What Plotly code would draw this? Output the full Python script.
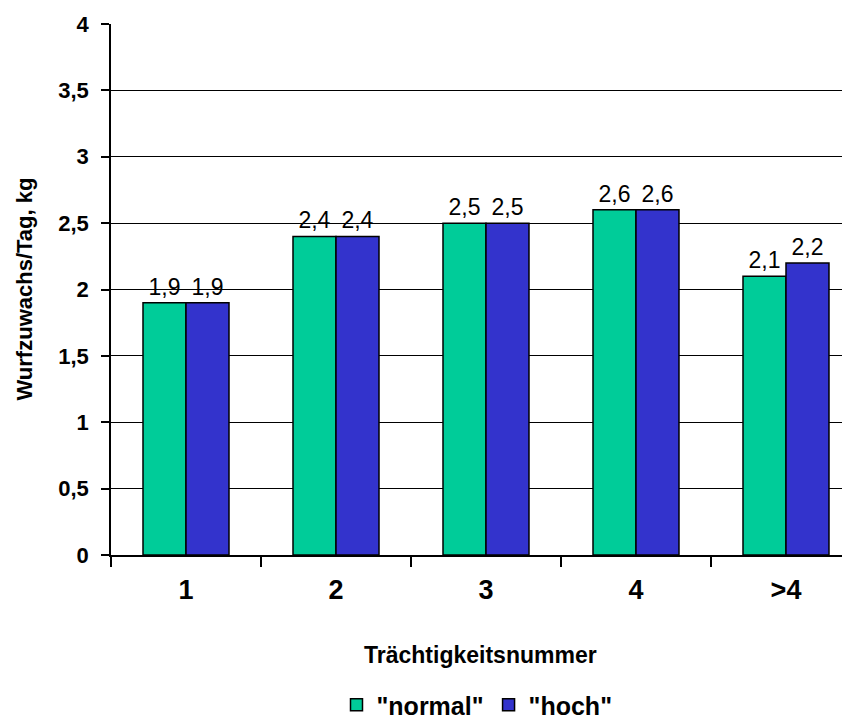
import plotly.graph_objects as go

categories = ["1", "2", "3", "4", ">4"]
normal_values = [1.9, 2.4, 2.5, 2.6, 2.1]
hoch_values = [1.9, 2.4, 2.5, 2.6, 2.2]
y_ticks = [0, 0.5, 1, 1.5, 2, 2.5, 3, 3.5, 4]

font_family = "Liberation Sans, Arial, sans-serif"

# page body has an 8px margin; figure is sized so it ends at the window edge
FIG_W, FIG_H = 842, 716
L, T, R, B = 103, 16, 0, 169
PW, PH = FIG_W - L - R, FIG_H - T - B

fig = go.Figure()
for name, vals, col in [('"normal"', normal_values, "#00CC99"), ('"hoch"', hoch_values, "#3333CC")]:
    fig.add_trace(go.Bar(
        x=categories, y=vals, name=name,
        marker=dict(color=col, line=dict(color="#000000", width=1.5)),
        texttemplate="%{y:.1f}", textposition="outside", constraintext="none",
        textfont=dict(size=23, color="#000000", family=font_family),
        cliponaxis=False,
    ))

fig.update_layout(
    width=FIG_W, height=FIG_H,
    margin=dict(l=L, r=R, t=T, b=B, autoexpand=False),
    paper_bgcolor="white", plot_bgcolor="white",
    separators=",.",
    barmode="group", bargap=0.4267, bargroupgap=0,
    font=dict(family=font_family, color="#000000"),
    showlegend=True,
    legend=dict(
        orientation="h", xref="container", yref="container",
        x=469 / FIG_W, y=1 - 697 / FIG_H, xanchor="center", yanchor="middle",
        font=dict(size=25, family=font_family, color="#000000", weight="bold"),
        traceorder="normal",
    ),
    xaxis=dict(
        type="category", range=[-0.5, 4.4267], automargin=False,
        tickson="boundaries", ticks="outside", ticklen=10, tickwidth=1.5, tickcolor="#000000",
        showline=True, linecolor="#000000", linewidth=1.5,
        tickfont=dict(size=27, family=font_family, weight="bold"),
        ticklabelstandoff=10,
        showgrid=False,
    ),
    yaxis=dict(
        range=[0, 4], tickvals=y_ticks, automargin=False,
        ticks="outside", ticklen=8, tickwidth=1.5, tickcolor="#000000",
        showline=True, linecolor="#000000", linewidth=1.5,
        showgrid=True, gridcolor="#000000", gridwidth=1,
        zeroline=False,
        tickfont=dict(size=22, family=font_family, weight="bold"),
        ticklabelstandoff=8,
    ),
    annotations=[
        dict(text="Trächtigkeitsnummer", xref="paper", yref="paper",
             x=0.5, y=-100 / PH, xanchor="center", yanchor="middle",
             showarrow=False, font=dict(size=23, family=font_family, weight="bold")),
        dict(text="Wurfzuwachs/Tag, kg", xref="paper", yref="paper",
             x=(16 - L) / PW, y=0.5, xanchor="center", yanchor="middle", textangle=-90,
             showarrow=False, font=dict(size=22, family=font_family, weight="bold")),
    ],
)

fig.write_html("out.html")
